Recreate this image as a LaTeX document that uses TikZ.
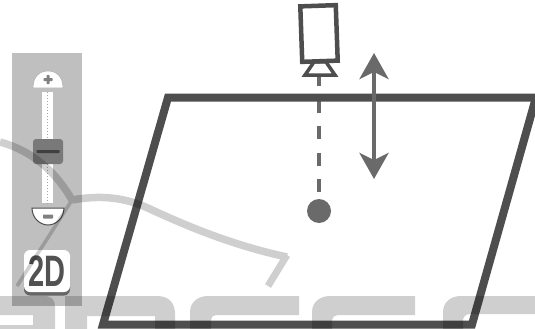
\documentclass[tikz,border=0pt]{standalone}
\usepackage{fontspec}
\setmainfont{Liberation Sans}
\usepackage{xcolor}
\usetikzlibrary{arrows.meta, positioning}
\definecolor{planegray}{HTML}{4E4E4E}
\definecolor{markgray}{HTML}{6A6A6A}
\definecolor{panelgray}{HTML}{BFBFBF}

\begin{document}
\begin{tikzpicture}[
  x=1pt, y=-1pt,
  plane/.style={draw=planegray, line width=8pt, miter limit=20},
  camerabox/.style={draw=planegray, line width=4.5pt, fill=white, minimum width=35.5pt,
                    minimum height=55.5pt, inner sep=0pt, rotate=2},
  lens/.style={draw=planegray, line width=3.5pt, fill=white, miter limit=20},
  viewray/.style={draw=markgray, line width=4.5pt, dash pattern=on 13pt off 13.5pt, dash phase=2pt},
  spot/.style={circle, fill=markgray, minimum size=24pt, inner sep=0pt},
  updown/.style={draw=markgray, line width=4pt,
                 {Stealth[length=26pt,width=29pt,inset=7pt]}-{Stealth[length=26pt,width=29pt,inset=7pt]}},
  panel/.style={fill=panelgray, minimum width=70pt, minimum height=253pt, inner sep=0pt},
  track/.style={fill=white, minimum width=11pt, minimum height=111pt, inner sep=0pt},
  thumb/.style={fill=gray!95!black, rounded corners=3pt, minimum width=30pt, minimum height=25pt, inner sep=0pt},
  bar/.style={fill=black!75, rounded corners=.7pt, inner sep=0pt},
  twod/.style={fill=white, rounded corners=6pt, minimum width=46pt, minimum height=42pt, inner sep=0pt},
  wmline/.style={draw=black, line width=7.5pt},
  letter/.style={fill=black}
]
\useasboundingbox (0,0) rectangle (535,329);
\fill[white] (0,0) rectangle (535,329);

% zoom panel
\node[panel] (zoompanel) at (47,179.5) {};
\node[track] (slider) at (47.5,147.5) {};
\draw[gray!70, line width=1pt, dotted] (slider.north) -- (slider.south);
\draw[gray!60, fill=white, line width=.6pt] (33,88) .. controls (33,76) and (40,71) .. (48,71)
  .. controls (56,71) and (63,76) .. (63,88) -- cycle;
\node[bar, fill=gray, minimum width=9pt, minimum height=3pt] (plusH) at (48,79.5) {};
\node[bar, fill=gray, minimum width=3pt, minimum height=9pt] (plusV) at (48,79.5) {};
\node[thumb] (grip) at (48,151.5) {};
\node[bar, minimum width=23pt, minimum height=3pt] (gripbar) at (grip) {};
\draw[black!70, fill=white, line width=1pt] (32,208) -- (64,208)
  .. controls (64,218) and (56,225) .. (48,225) .. controls (40,225) and (32,218) .. (32,208) -- cycle;
\node[bar, fill=gray, minimum width=10pt, minimum height=4pt] (minus) at (48,216.5) {};
\node[twod, fill=gray!80!black] (twodshadow) at (47,274.5) {};
\node[twod] (twodbtn) at (47,271) {};
\node[font=\fontsize{44}{44}\selectfont\bfseries, text=black!68, xscale=.66, inner sep=0pt] (twodlabel) at (47,271.5) {2D};

% plane, camera
\coordinate (tl) at (168,97.5);
\coordinate (tr) at (536,97.5);
\coordinate (br) at (472,324.5);
\coordinate (bl) at (103,324.5);
\coordinate (lensfoot) at (319,75);
\node[spot] (target) at (319,211) {};
\draw[viewray] (lensfoot) -- (target.north);
\draw[lens] (305,75) -- (314,62) -- (326,62) -- (335,75) -- cycle;
\draw[plane] (tl) -- (tr) -- (br) -- (bl) -- cycle;
\node[camerabox] (camera) at (319,33.5) {};
\coordinate (liftup) at (374,53);
\coordinate (liftdown) at (374,179);
\draw[updown] (liftup) -- (liftdown);

% watermark
\begin{scope}[transparency group, opacity=.19]
  \draw[wmline] (0,142) .. controls (30,150) and (55,170) .. (72,200);
  \draw[wmline, line width=3.5pt] (72,200) -- (17,286);
  \draw[wmline] (72,200) .. controls (100,195) and (125,197) .. (150,209)
    .. controls (195,230) and (240,247) .. (287,257);
  \draw[wmline, line width=7pt] (287,255) -- (268,286);
  \fill[letter] (0,296) -- (44,296) .. controls (52,296) and (55,300) .. (55,307) -- (55,329) -- (0,329)
    -- (0,325) -- (33,325) -- (33,315) -- (0,315) -- cycle;
  \fill[letter] (65,296) -- (157,296) .. controls (169,296) and (175,303) .. (175,314) -- (175,329)
    -- (155,329) -- (155,316) -- (87,316) -- (87,329) -- (65,329) -- cycle;
  \fill[letter] (190,329) -- (190,312) .. controls (190,302) and (198,296) .. (208,296) -- (299,296)
    -- (299,315) -- (216,315) .. controls (213,315) and (211,317) .. (211,320) -- (211,329) -- cycle;
  \fill[letter] (312,329) -- (312,312) .. controls (312,302) and (320,296) .. (330,296) -- (415,296)
    -- (415,315) -- (338,315) .. controls (335,315) and (332,317) .. (332,320) -- (332,329) -- cycle;
  \fill[letter] (443,329) -- (443,312) .. controls (443,302) and (451,296) .. (461,296) -- (535,296)
    -- (535,314) -- (470,314) .. controls (466,314) and (463,317) .. (463,320) -- (463,329) -- cycle;
\end{scope}
\end{tikzpicture}
\end{document}
